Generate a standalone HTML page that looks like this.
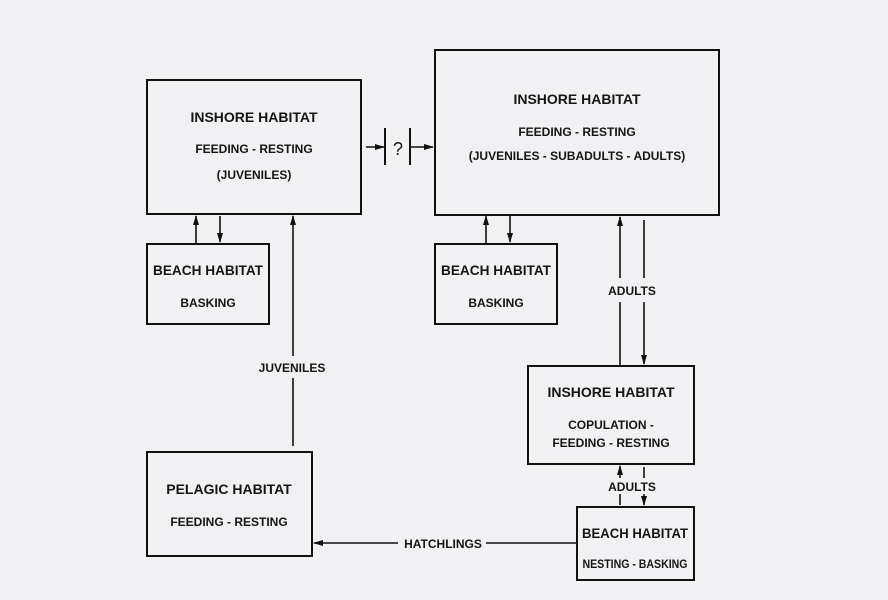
<!DOCTYPE html>
<html><head><meta charset="utf-8"><style>
html,body{margin:0;padding:0;background:#f1f1f4;}
svg{display:block}
text{font-family:"Liberation Sans",sans-serif;font-weight:bold;fill:#151515;text-anchor:middle}
.t{font-size:14px}
.s{font-size:12px}
</style></head><body>
<svg width="888" height="600" viewBox="0 0 888 600" xmlns="http://www.w3.org/2000/svg">
<defs>
<marker id="a" markerWidth="10" markerHeight="8" refX="9" refY="4" orient="auto" markerUnits="userSpaceOnUse">
<path d="M0,1 L10,4 L0,7 Z" fill="#111"/></marker>
</defs>
<rect width="888" height="600" fill="#f1f1f4"/>
<g fill="none" stroke="#111" stroke-width="2">
<rect x="147" y="80" width="214" height="134"/>
<rect x="435" y="50" width="284" height="165"/>
<rect x="147" y="244" width="122" height="80"/>
<rect x="435" y="244" width="122" height="80"/>
<rect x="528" y="366" width="166" height="98"/>
<rect x="147" y="452" width="165" height="104"/>
<rect x="577" y="507" width="117" height="73"/>
</g>
<g stroke="#111" stroke-width="1.6" fill="none">
<line x1="196" y1="243" x2="196" y2="216" marker-end="url(#a)"/>
<line x1="220" y1="216" x2="220" y2="242" marker-end="url(#a)"/>
<line x1="486" y1="243" x2="486" y2="216" marker-end="url(#a)"/>
<line x1="510" y1="216" x2="510" y2="242" marker-end="url(#a)"/>
<line x1="293" y1="446" x2="293" y2="378"/>
<line x1="293" y1="356" x2="293" y2="216" marker-end="url(#a)"/>
<line x1="366" y1="147" x2="384" y2="147" marker-end="url(#a)"/>
<line x1="410" y1="147" x2="433" y2="147" marker-end="url(#a)"/>
<line x1="385" y1="128" x2="385" y2="165" stroke-width="2"/>
<line x1="410" y1="128" x2="410" y2="165" stroke-width="2"/>
<line x1="620" y1="365" x2="620" y2="302"/>
<line x1="620" y1="278" x2="620" y2="217" marker-end="url(#a)"/>
<line x1="644" y1="220" x2="644" y2="278"/>
<line x1="644" y1="302" x2="644" y2="364" marker-end="url(#a)"/>
<line x1="620" y1="505" x2="620" y2="494"/>
<line x1="620" y1="478" x2="620" y2="466" marker-end="url(#a)"/>
<line x1="644" y1="467" x2="644" y2="478"/>
<line x1="644" y1="494" x2="644" y2="505" marker-end="url(#a)"/>
<line x1="576" y1="543" x2="486" y2="543"/>
<line x1="398" y1="543" x2="314" y2="543" marker-end="url(#a)"/>
</g>
<text class="t" x="254" y="122">INSHORE HABITAT</text>
<text class="s" x="254" y="153">FEEDING - RESTING</text>
<text class="s" x="254" y="179">(JUVENILES)</text>
<text x="398" y="155" style="font-size:18px;font-weight:normal">?</text>
<text class="t" x="577" y="104">INSHORE HABITAT</text>
<text class="s" x="577" y="136">FEEDING - RESTING</text>
<text class="s" x="577" y="160">(JUVENILES - SUBADULTS - ADULTS)</text>
<text class="t" x="208" y="275" textLength="110" lengthAdjust="spacingAndGlyphs">BEACH HABITAT</text>
<text class="s" x="208" y="307">BASKING</text>
<text class="t" x="496" y="275" textLength="110" lengthAdjust="spacingAndGlyphs">BEACH HABITAT</text>
<text class="s" x="496" y="307">BASKING</text>
<text class="s" x="632" y="295">ADULTS</text>
<text class="s" x="292" y="372">JUVENILES</text>
<text class="t" x="611" y="397">INSHORE HABITAT</text>
<text class="s" x="611" y="429">COPULATION -</text>
<text class="s" x="611" y="447">FEEDING - RESTING</text>
<text class="s" x="632" y="491">ADULTS</text>
<text class="t" x="229" y="494">PELAGIC HABITAT</text>
<text class="s" x="229" y="526">FEEDING - RESTING</text>
<text class="s" x="443" y="548">HATCHLINGS</text>
<text class="t" x="635" y="538" textLength="106" lengthAdjust="spacingAndGlyphs">BEACH HABITAT</text>
<text class="s" x="635" y="568" textLength="105" lengthAdjust="spacingAndGlyphs">NESTING - BASKING</text>
</svg>
</body></html>
